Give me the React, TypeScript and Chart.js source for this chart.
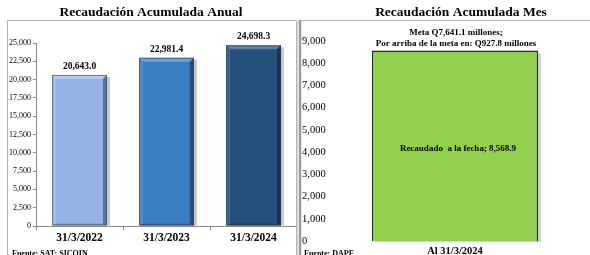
import React, { useEffect, useRef } from "react";
import { Chart, registerables } from "chart.js";
Chart.register(...registerables);

// ---- Data ----
const annualCategories = ["31/3/2022", "31/3/2023", "31/3/2024"];
const annualValues = [20643.0, 22981.4, 24698.3];
const annualValueLabels = ["20,643.0", "22,981.4", "24,698.3"];
const annualColors = ["#95B3E7", "#3A7DC3", "#26517F"];
const annualMax = 25000;
const annualStep = 2500;
const annualTitle = "Recaudación Acumulada Anual";
const annualSource = "Fuente: SAT; SICOIN";

const monthCategories = ["Al 31/3/2024"];
const monthValues = [8568.9];
const monthValueLabel = "Recaudado  a la fecha; 8,568.9";
const monthGoalLines = ["Meta Q7,641.1 millones;", "Por arriba de la meta en: Q927.8 millones"];
const monthMax = 9000;
const monthStep = 1000;
const monthTitle = "Recaudación Acumulada Mes";
const monthSource = "Fuente: DAPF";

const SERIF = "'Liberation Serif', 'Times New Roman', serif";

const annualDecor = {
  id: "annualDecor",
  beforeDatasetsDraw(chart: any) {
    const ctx = chart.ctx;
    const meta = chart.getDatasetMeta(0);
    ctx.save();
    meta.data.forEach((bar: any) => {
      const w = bar.width;
      const l = bar.x - w / 2;
      ctx.fillStyle = "rgba(0,0,0,0.22)";
      ctx.fillRect(l + 3, bar.y + 2, w, bar.base - bar.y - 2);
    });
    ctx.restore();
  },
  afterDatasetsDraw(chart: any) {
    const ctx = chart.ctx;
    const meta = chart.getDatasetMeta(0);
    ctx.save();
    meta.data.forEach((bar: any, i: number) => {
      const w = bar.width;
      const l = bar.x - w / 2;
      const r = bar.x + w / 2;
      const t = bar.y;
      const b = bar.base;
      const d = 4;
      // top bevel
      ctx.fillStyle = "rgba(255,255,255,0.28)";
      ctx.beginPath();
      ctx.moveTo(l, t); ctx.lineTo(r, t); ctx.lineTo(r - d, t + d); ctx.lineTo(l + d, t + d); ctx.closePath(); ctx.fill();
      // left bevel
      ctx.fillStyle = "rgba(255,255,255,0.12)";
      ctx.beginPath();
      ctx.moveTo(l, t); ctx.lineTo(l + d, t + d); ctx.lineTo(l + d, b - 2); ctx.lineTo(l, b); ctx.closePath(); ctx.fill();
      // right bevel
      ctx.fillStyle = "rgba(0,0,0,0.35)";
      ctx.beginPath();
      ctx.moveTo(r, t); ctx.lineTo(r - d, t + d); ctx.lineTo(r - d, b - 2); ctx.lineTo(r, b); ctx.closePath(); ctx.fill();
      // bottom bevel
      ctx.fillStyle = "rgba(0,0,0,0.18)";
      ctx.beginPath();
      ctx.moveTo(l, b); ctx.lineTo(l + d, b - 2); ctx.lineTo(r - d, b - 2); ctx.lineTo(r, b); ctx.closePath(); ctx.fill();
      // outline
      ctx.strokeStyle = "rgba(40,50,70,0.55)";
      ctx.lineWidth = 1;
      ctx.strokeRect(l + 0.5, t + 0.5, w - 1, b - t - 1);
      // value label
      ctx.fillStyle = "#000";
      ctx.font = `bold 9.5px ${SERIF}`;
      ctx.textAlign = "center";
      ctx.textBaseline = "middle";
      ctx.fillText(annualValueLabels[i], bar.x, t - 8.5);
    });
    ctx.restore();
  },
  afterDraw(chart: any) {
    const ctx = chart.ctx;
    ctx.save();
    // box
    ctx.strokeStyle = "#b4b4b4";
    ctx.lineWidth = 1;
    ctx.beginPath();
    ctx.moveTo(7.5, 256);
    ctx.lineTo(7.5, 20.5);
    ctx.lineTo(296.5, 20.5);
    ctx.lineTo(296.5, 256);
    ctx.stroke();
    ctx.strokeStyle = "#d8d8d8";
    ctx.beginPath();
    ctx.moveTo(297.5, 22);
    ctx.lineTo(297.5, 256);
    ctx.stroke();
    // title
    ctx.fillStyle = "#000";
    ctx.font = `bold 13.5px ${SERIF}`;
    ctx.textAlign = "center";
    ctx.textBaseline = "middle";
    ctx.fillText(annualTitle, 151, 13);
    // source
    ctx.font = `bold 8px ${SERIF}`;
    ctx.textAlign = "left";
    ctx.textBaseline = "top";
    ctx.fillText(annualSource, 12, 250);
    ctx.restore();
  },
};

const monthDecor = {
  id: "monthDecor",
  beforeDatasetsDraw(chart: any) {
    const ctx = chart.ctx;
    ctx.save();
    const bar = chart.getDatasetMeta(0).data[0];
    const w = bar.width;
    ctx.fillStyle = "rgba(0,0,0,0.18)";
    ctx.fillRect(bar.x - w / 2 + 3, bar.y + 3, w, bar.base - bar.y - 2);
    ctx.restore();
  },
  afterDraw(chart: any) {
    const ctx = chart.ctx;
    const bar = chart.getDatasetMeta(0).data[0];
    ctx.save();
    // top line
    ctx.strokeStyle = "#b0b0b0";
    ctx.lineWidth = 1;
    ctx.beginPath();
    ctx.moveTo(0, 20.5);
    ctx.lineTo(292, 20.5);
    ctx.stroke();
    // thick left axis line
    ctx.strokeStyle = "#9a9a9a";
    ctx.lineWidth = 2.5;
    ctx.beginPath();
    ctx.moveTo(2, 20);
    ctx.lineTo(2, 256);
    ctx.stroke();
    // title
    ctx.fillStyle = "#000";
    ctx.font = `bold 13.5px ${SERIF}`;
    ctx.textAlign = "center";
    ctx.textBaseline = "middle";
    ctx.fillText(monthTitle, 163, 13);
    // goal lines
    ctx.font = `bold 9px ${SERIF}`;
    ctx.fillText(monthGoalLines[0], 158, 33);
    ctx.fillText(monthGoalLines[1], 158, 43.5);
    // value label in bar
    ctx.fillText(monthValueLabel, bar.x + 3, 149);
    // source
    ctx.font = `bold 8px ${SERIF}`;
    ctx.textAlign = "left";
    ctx.textBaseline = "top";
    ctx.fillText(monthSource, 6, 250);
    ctx.restore();
  },
};

function AnnualChart() {
  const ref = useRef<HTMLCanvasElement>(null);
  useEffect(() => {
    const chart = new Chart(ref.current!, {
      type: "bar",
      data: {
        labels: annualCategories,
        datasets: [
          {
            data: annualValues,
            backgroundColor: annualColors,
            borderWidth: 0,
            barPercentage: 0.63,
            categoryPercentage: 1,
          },
        ],
      },
      options: {
        animation: false,
        responsive: false,
        maintainAspectRatio: false,
        events: [],
        layout: { padding: { top: 43, left: 0, right: 1, bottom: 0 } },
        plugins: { legend: { display: false }, tooltip: { enabled: false }, title: { display: false } },
        scales: {
          x: {
            grid: { display: true, drawOnChartArea: false, offset: true, tickLength: 4, color: "#8a8a8a" },
            border: { display: true, color: "#8a8a8a" },
            ticks: { color: "#000", font: { family: SERIF, size: 11.5, weight: "bold" }, padding: 1, maxRotation: 0 },
            afterFit: (s: any) => { s.height = 29; },
          },
          y: {
            min: 0,
            max: annualMax,
            ticks: {
              stepSize: annualStep,
              color: "#000",
              font: { family: SERIF, size: 8 },
              padding: 2,
              callback: (v: any) => Number(v).toLocaleString("en-US"),
            },
            grid: { display: true, drawOnChartArea: false, tickLength: 3, color: "#8a8a8a" },
            border: { display: true, color: "#8a8a8a" },
            afterFit: (s: any) => { s.width = 36; },
          },
        },
      },
      plugins: [annualDecor],
    } as any);
    return () => chart.destroy();
  }, []);
  return <canvas ref={ref} width={298} height={255} style={{ position: "absolute", left: 0, top: 0, width: 298, height: 255 }} />;
}

function MonthChart() {
  const ref = useRef<HTMLCanvasElement>(null);
  useEffect(() => {
    const chart = new Chart(ref.current!, {
      type: "bar",
      data: {
        labels: monthCategories,
        datasets: [
          {
            data: monthValues,
            backgroundColor: "#92D050",
            borderColor: "#2a2a2a",
            borderWidth: 1.5,
            barPercentage: 0.665,
            categoryPercentage: 1,
          },
        ],
      },
      options: {
        animation: false,
        responsive: false,
        maintainAspectRatio: false,
        events: [],
        layout: { padding: { top: 41, left: 4, right: 10, bottom: 0 } },
        plugins: { legend: { display: false }, tooltip: { enabled: false }, title: { display: false } },
        scales: {
          x: {
            grid: { display: false, drawTicks: false, tickLength: 0 },
            border: { display: false },
            ticks: { color: "#000", font: { family: SERIF, size: 10.5, weight: "bold" }, padding: 4, maxRotation: 0 },
            afterFit: (s: any) => { s.height = 14; },
          },
          y: {
            min: 0,
            max: monthMax,
            ticks: {
              stepSize: monthStep,
              color: "#000",
              crossAlign: "far",
              font: { family: SERIF, size: 10.5 },
              padding: 2,
              callback: (v: any) => Number(v).toLocaleString("en-US"),
            },
            grid: { display: false, drawTicks: false, tickLength: 0 },
            border: { display: false },
            afterFit: (s: any) => { s.width = 28; },
          },
        },
      },
      plugins: [monthDecor],
    } as any);
    return () => chart.destroy();
  }, []);
  return <canvas ref={ref} width={292} height={255} style={{ position: "absolute", left: 298, top: 0, width: 292, height: 255 }} />;
}

export default function App() {
  return (
    <div style={{ position: "fixed", left: 0, top: 0, width: 590, height: 255, background: "#fff", overflow: "hidden" }}>
      <AnnualChart />
      <MonthChart />
    </div>
  );
}
